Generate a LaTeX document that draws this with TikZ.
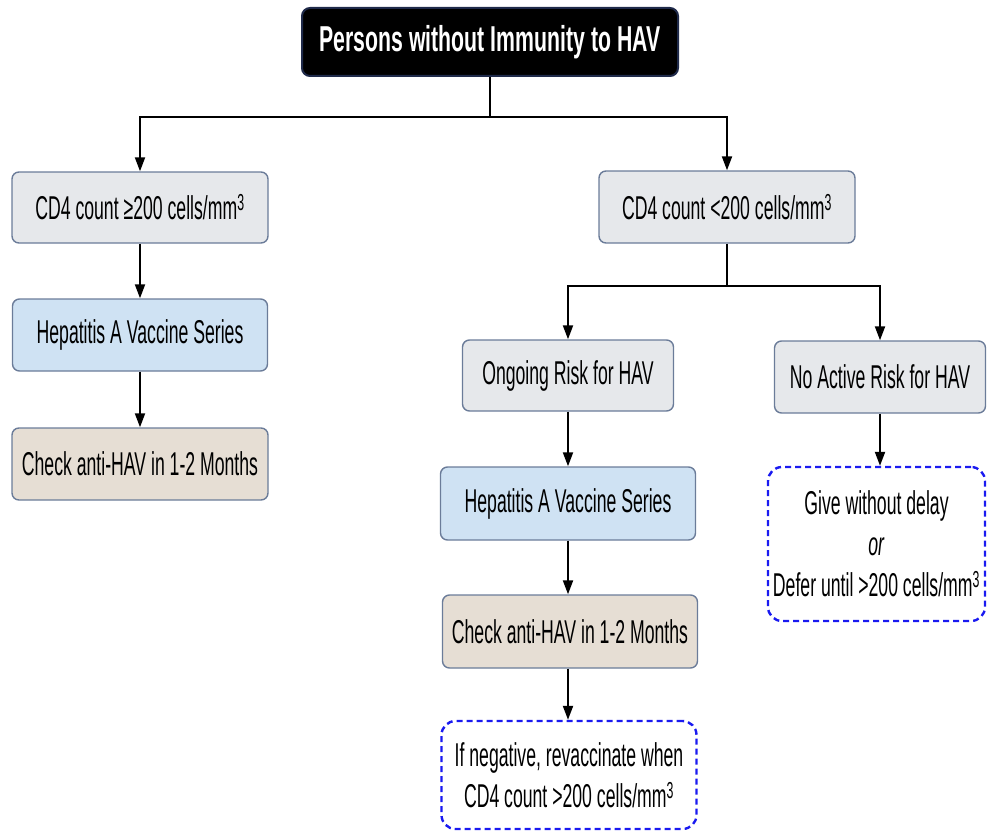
\documentclass[tikz,border=0pt]{standalone}
\usepackage{fontspec}
\setmainfont{Liberation Sans}[FakeStretch=0.535]
\newfontfamily\titlefont{Liberation Sans}[FakeStretch=0.59]
\usetikzlibrary{arrows.meta}
\definecolor{boxgray}{HTML}{E6E8EB}
\definecolor{boxblue}{HTML}{CFE2F3}
\definecolor{boxtan}{HTML}{E6DED4}
\definecolor{edgeblue}{HTML}{6B7C99}
\definecolor{dashblue}{HTML}{1A1AF0}
\definecolor{navy}{HTML}{1F2A4A}
\tikzset{
  base/.style={rounded corners=7pt, line width=1.4pt, draw=edgeblue, align=center,
    font=\fontsize{33}{41}\selectfont, inner sep=0pt},
  graybox/.style={base, fill=boxgray},
  bluebox/.style={base, fill=boxblue},
  tanbox/.style={base, fill=boxtan},
  dashbox/.style={base, draw=dashblue, line width=2.4pt, dash pattern=on 6pt off 4pt, fill=white, rounded corners=14pt},
  titlebox/.style={rounded corners=8pt, line width=2pt, draw=navy, fill=black, text=white,
    font=\titlefont\bfseries\fontsize{36}{42}\selectfont, inner sep=0pt},
  conn/.style={line width=2pt, draw=black},
  arr/.style={conn, -{Triangle[length=14pt,width=10pt]}},
}
\begin{document}
\begin{tikzpicture}[x=1pt,y=-1pt]
\useasboundingbox (0,0) rectangle (987,832);
\node[titlebox, minimum width=376pt, minimum height=68pt] (top) at (490,42) {Persons without Immunity to HAV};
\node[graybox, minimum width=256pt, minimum height=71pt] (l1) at (140,207.5) {CD4 count ≥200 cells/mm\textsuperscript{3}};
\node[bluebox, minimum width=255pt, minimum height=72pt] (l2) at (140,335) {Hepatitis A Vaccine Series};
\node[tanbox, minimum width=256pt, minimum height=72pt] (l3) at (140,464) {Check anti-HAV in 1-2 Months};
\node[graybox, minimum width=256pt, minimum height=72pt] (r1) at (727,207) {CD4 count <200 cells/mm\textsuperscript{3}};
\node[graybox, minimum width=211pt, minimum height=71pt] (r2) at (568,375.5) {Ongoing Risk for HAV};
\node[graybox, minimum width=211pt, minimum height=72pt] (r3) at (880,377) {No Active Risk for HAV};
\node[bluebox, minimum width=255pt, minimum height=73pt] (r4) at (568,503.5) {Hepatitis A Vaccine Series};
\node[tanbox, minimum width=255pt, minimum height=73pt] (r5) at (570,631.5) {Check anti-HAV in 1-2 Months};
\node[dashbox, minimum width=255pt, minimum height=108pt] (r6) at (569,775) {If negative, revaccinate when\\CD4 count >200 cells/mm\textsuperscript{3}};
\node[dashbox, minimum width=217pt, minimum height=154pt] (r7) at (876.5,544) {Give without delay\\\textit{or}\\Defer until >200 cells/mm\textsuperscript{3}};
\coordinate (j1) at (490,117);
\coordinate (j1l) at (140,117);
\coordinate (j1r) at (727,117);
\coordinate (j2) at (727,286);
\coordinate (j2l) at (568,286);
\coordinate (j2r) at (880,286);
\draw[conn] (top.south) -- (j1);
\draw[conn, line width=2.6pt, line cap=rect] (j1l) -- (j1r);
\draw[arr] (j1l) -- (l1.north);
\draw[arr] (j1r) -- (r1.north);
\draw[arr] (l1.south) -- (l2.north);
\draw[arr] (l2.south) -- (l3.north);
\draw[conn] (r1.south) -- (j2);
\draw[conn, line width=2.6pt, line cap=rect] (j2l) -- (j2r);
\draw[arr] (j2l) -- (r2.north);
\draw[arr] (j2r) -- (r3.north);
\draw[arr] (r2.south) -- (r4.north);
\draw[arr] (r4.south) -- (r4.south |- r5.north);
\draw[arr] (r5.south -| r4.south) -- (r4.south |- r6.north);
\draw[arr] (r3.south) -- (r3.south |- r7.north);
\end{tikzpicture}
\end{document}
